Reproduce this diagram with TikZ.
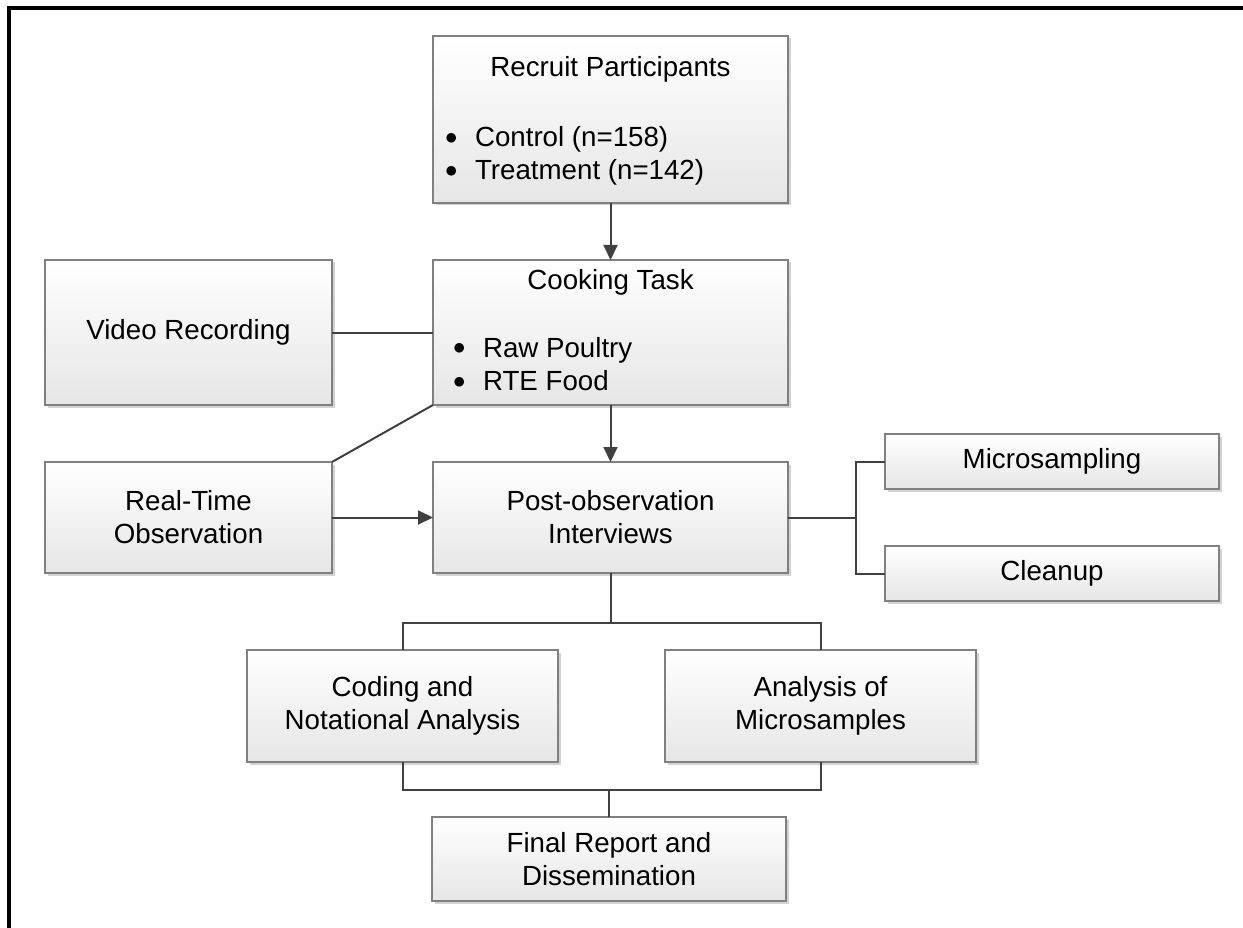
\documentclass[tikz,border=0pt]{standalone}
\usepackage{fontspec}
\setmainfont{Liberation Sans}
\usetikzlibrary{arrows.meta,shadows}
\definecolor{bordc}{HTML}{808080}
\definecolor{connc}{HTML}{404040}
\definecolor{botc}{HTML}{E6E6E6}
\definecolor{shadc}{HTML}{D2D2D2}
\tikzset{
  every node/.style={font=\fontsize{27.7}{33}\selectfont, inner sep=0pt, outer sep=0pt},
  flowbox/.style={draw=bordc, line width=1.3pt, top color=white, bottom color=botc,
    align=center, drop shadow={shadow xshift=2.5pt, shadow yshift=-2.5pt, fill=shadc, opacity=1}},
  conn/.style={draw=connc, line width=2pt},
  arr/.style={conn, -{Triangle[length=15pt,width=14pt]}},
  frameline/.style={line width=4pt, black, line join=miter},
}
\newcommand{\bul}{\makebox[28pt][l]{\hspace*{-2pt}\raisebox{2.5pt}{$\bullet$}}}
\begin{document}
\begin{tikzpicture}[x=1pt,y=-1pt]
\useasboundingbox (0,0) rectangle (1243,928);
% outer frame (top and left only)
\draw[frameline] (9,928) -- (9,8) -- (1243,8);

% boxes
\node[flowbox, minimum width=355, minimum height=167] (recruit) at (610.5,119.5) {};
\node[anchor=base] (recruitT) at (610.5,77) {Recruit Participants};
\node[anchor=base west] (recruitL) at (447,147) {\renewcommand\arraystretch{1}\begin{tabular}[t]{@{}l@{}}\bul Control (n=158)\\ \bul Treatment (n=142)\end{tabular}};

\node[flowbox, minimum width=355, minimum height=145] (cooking) at (610.5,332.5) {};
\node[anchor=base] (cookingT) at (610.5,290) {Cooking Task};
\node[anchor=base west] (cookingL) at (455,357) {\renewcommand\arraystretch{1.03}\begin{tabular}[t]{@{}l@{}}\bul Raw Poultry\\ \bul RTE Food\end{tabular}};

\node[flowbox, minimum width=287, minimum height=145] (video) at (188.5,332.5) {Video Recording};
\node[flowbox, minimum width=287, minimum height=111] (realtime) at (188.5,517.5) {Real-Time\\Observation};
\node[flowbox, minimum width=355, minimum height=111] (post) at (610.5,517.5) {Post-observation\\Interviews};
\node[flowbox, minimum width=334, minimum height=55] (micro) at (1052,461.5) {Microsampling};
\node[flowbox, minimum width=334, minimum height=55] (cleanup) at (1052,573.5) {Cleanup};
\node[flowbox, minimum width=311, minimum height=112] (coding) at (402.5,706) {Coding and\\Notational Analysis};
\node[flowbox, minimum width=311, minimum height=112] (analysis) at (820.5,706) {Analysis of\\Microsamples};
\node[flowbox, minimum width=354, minimum height=84] (final) at (609,859) {Final Report and\\Dissemination};

% junction points
\coordinate (jr) at (856,517.5);
\coordinate (jt) at (610.5,623);
\coordinate (jb) at (609,790);

% connectors
\draw[arr] (recruit.south) -- (cooking.north);
\draw[conn] (video.east) -- (cooking.west);
\draw[conn] (cooking.south west) -- (realtime.north east);
\draw[arr] (cooking.south) -- (post.north);
\draw[arr] (realtime.east) -- (post.west);
\draw[conn] (post.east) -- (jr);
\draw[conn] (micro.west) -| (jr);
\draw[conn] (cleanup.west) -| (jr);
\draw[conn] (post.south) -- (jt);
\draw[conn] (coding.north) |- (jt) -| (analysis.north);
\draw[conn] (coding.south) |- (jb) -| (analysis.south);
\draw[conn] (final.north) -- (jb);
\end{tikzpicture}
\end{document}
